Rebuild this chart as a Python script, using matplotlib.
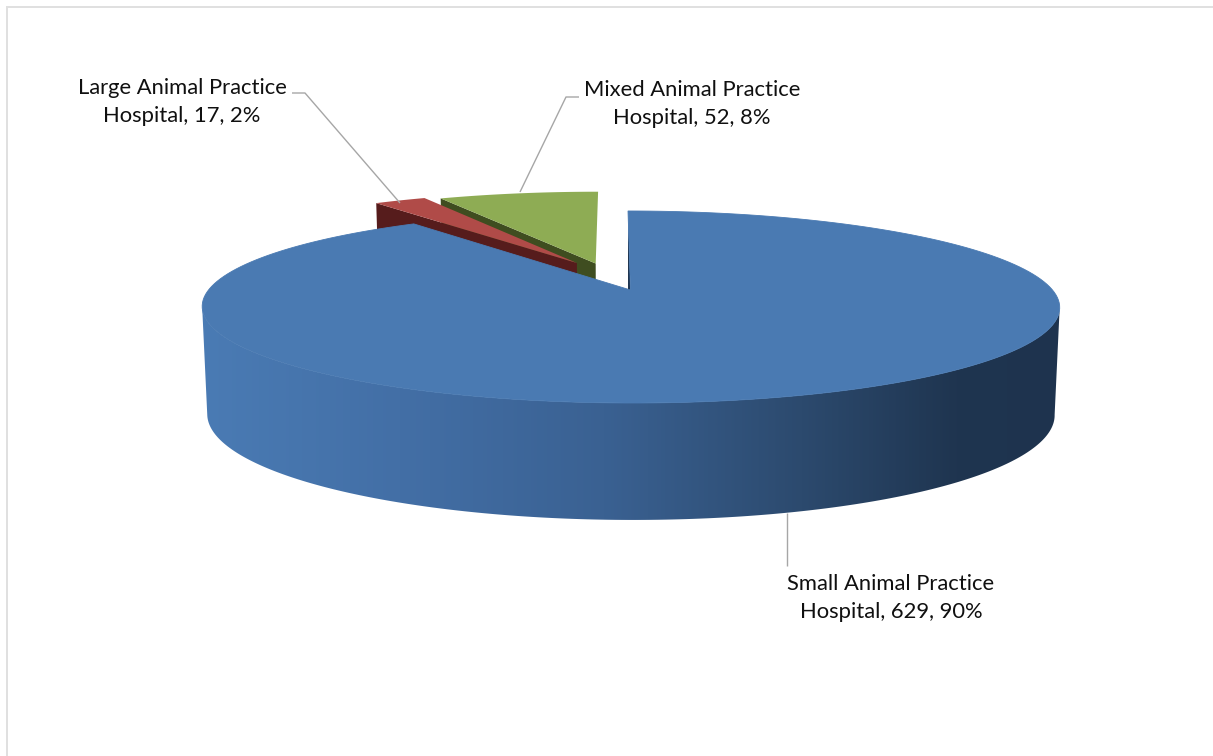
import numpy as np
import matplotlib
matplotlib.use("Agg")
import matplotlib.pyplot as plt
from matplotlib.colors import LinearSegmentedColormap
from matplotlib.patches import Polygon

plt.rcParams['font.family'] = ['Lato', 'DejaVu Sans']

# Survey counts and the rounded shares printed on the labels
categories = ["Small Animal Practice\nHospital", "Large Animal Practice\nHospital", "Mixed Animal Practice\nHospital"]
counts = [629, 17, 52]
shares = [90, 2, 8]
top_colors = ["#4a7ab2", "#b04b48", "#8eac54"]
side_colors = ["#1f3550", "#561c1c", "#3f4d20"]
explode = [(0.0, 0.0), (-0.132, 0.306), (-0.085, 0.30)]

W, H = 1213, 756
fig = plt.figure(figsize=(W / 100, H / 100), dpi=100)
ax = fig.add_axes([0, 0, 1, 1])
ax.set_xlim(0, W)
ax.set_ylim(H, 0)
ax.axis("off")

# Perspective projection of the disc plane: upper face and lower face
TILT = 0.177
UPPER = dict(cx=630.5, cy=290.0, a=422.0, b=93.0, skew=-2.5)
LOWER = dict(cx=630.5, cy=396.0, a=417.0, b=102.0, skew=-2.5)


def project(u, v, face):
    d = 1 + TILT * v
    return face["cx"] + face["a"] * u / d + face["skew"] * v, face["cy"] - face["b"] * v / d


def rim(t0, t1, offset, face, n=200):
    t = np.radians(np.linspace(t0, t1, n))
    return np.column_stack(project(np.sin(t) + offset[0], np.cos(t) + offset[1], face))


def apex(offset, face):
    return np.array(project(offset[0], offset[1], face))


# Slice angles run clockwise from twelve o'clock
edges = np.concatenate([[0], np.cumsum(counts) / np.sum(counts) * 360])
spans = list(zip(edges[:-1], edges[1:]))

# Exploded slices, far one first: cut face, then top surface
for i, z in ((2, 2), (1, 4)):
    t0, t1 = spans[i]
    off = explode[i]
    a_up, a_lo = apex(off, UPPER), apex(off, LOWER)
    c_up, c_lo = rim(t0, t0, off, UPPER, 2)[0], rim(t0, t0, off, LOWER, 2)[0]
    ax.add_patch(Polygon([c_up, a_up, a_lo, c_lo], fc=side_colors[i], ec="none", zorder=z))
    ax.add_patch(Polygon(np.vstack([a_up, rim(t0, t1, off, UPPER)]),
                         fc=top_colors[i], ec="none", zorder=z + 1))

# Main slice: front wall shaded from left to right
t0, t1 = spans[0]
off = explode[0]
wall_start = np.degrees(np.arccos(-TILT))
wall = np.vstack([rim(wall_start, 360 - wall_start, off, UPPER),
                  rim(360 - wall_start, wall_start, off, LOWER)])
stops = [(0.0, "#4a7bb4"), (0.23, "#436fa6"), (0.47, "#3a6192"),
         (0.70, "#2c4a6e"), (0.88, "#1f3550"), (1.0, "#1e334e")]
wall_cmap = LinearSegmentedColormap.from_list("wall", stops)
gradient = ax.imshow(np.linspace(0, 1, 512).reshape(1, -1), cmap=wall_cmap, aspect="auto",
                     extent=(wall[:, 0].min(), wall[:, 0].max(), wall[:, 1].max(), wall[:, 1].min()),
                     zorder=6)
gradient.set_clip_path(Polygon(wall, transform=ax.transData))
ax.set_xlim(0, W)
ax.set_ylim(H, 0)

# Edge-on cut face beside the gap, then the top surface
a_up, a_lo = apex(off, UPPER), apex(off, LOWER)
c_up, c_lo = rim(0, 0, off, UPPER, 2)[0], rim(0, 0, off, LOWER, 2)[0]
ax.add_patch(Polygon([c_up, a_up, a_lo, c_lo], fc=side_colors[0], ec="none", zorder=6))
ax.add_patch(Polygon(np.vstack([a_up, rim(t0, t1, off, UPPER)]),
                     fc=top_colors[0], ec=top_colors[0], lw=0.6, zorder=7))

# Labels with leader lines
leader_color = "#a6a6a6"
leaders = [[(787, 513), (787, 566)],
           [(400, 203), (305, 93), (292, 93)],
           [(520, 192), (566, 97), (579, 97)]]
label_xy = [(891, 598), (182, 102), (692, 104)]
for name, count, share, pts, xy in zip(categories, counts, shares, leaders, label_xy):
    xs, ys = zip(*pts)
    ax.plot(xs, ys, color=leader_color, lw=1.0, zorder=8, solid_capstyle="butt")
    ax.text(xy[0], xy[1], f"{name}, {count}, {share}%", ha="center", va="center",
            fontsize=15.8, color="#101010", linespacing=1.49, zorder=9)

# Chart area border: only its top and left edges fall inside the canvas
ax.plot([W, 7, 7], [7, 7, H], color="#e0e0e0", lw=1.44, zorder=1, solid_joinstyle="miter")

fig.savefig("out.png", dpi=100)
